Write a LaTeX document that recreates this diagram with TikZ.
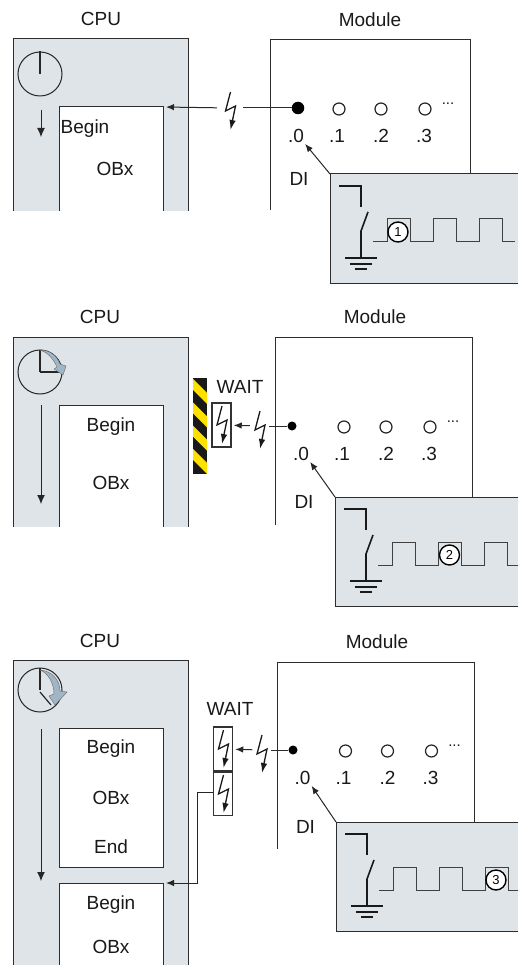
\documentclass[tikz,border=0pt]{standalone}
\usepackage{fontspec}
\setmainfont{Liberation Sans}
\usepackage{xcolor}
\usetikzlibrary{arrows.meta, shapes.geometric}
\definecolor{panelgray}{RGB}{223, 228, 232}
\definecolor{linedark}{RGB}{45, 45, 45}
\definecolor{sweepblue}{RGB}{160, 182, 198}
\definecolor{hazardyellow}{RGB}{255, 225, 0}
\tikzset{
  lbl/.style={inner sep=1pt, text=black!90, font=\fontsize{19}{21}\selectfont},
  area/.style={inner sep=0pt, outer sep=0pt, anchor=north west, minimum width=#1},
  cpuarea/.style={area=175, fill=panelgray},
  obarea/.style={area=104, fill=white},
  boxline/.style={draw=linedark, line width=1pt},
  clockface/.style={circle, draw=black!85, line width=1pt, minimum size=44pt, inner sep=0pt},
  hand/.style={draw=black!85, line width=1.2pt},
  flow/.style={draw=black!85, line width=1pt, -{Latex[length=9pt,width=8pt]}},
  signal/.style={draw=black!85, line width=1pt, -{Latex[length=8pt,width=6.5pt]}},
  sweep/.style={fill=sweepblue, draw=black!60, line width=0.4pt},
  boltgap/.style={inner sep=0pt, minimum width=#1, minimum height=2pt},
  waitcell/.style={draw=black!80, line width=1.5pt, fill=white, inner sep=0pt, minimum width=19pt, minimum height=#1},
  pinopen/.style={circle, draw=black!85, line width=1.2pt, inner sep=0pt, minimum size=12pt},
  numbered/.style={circle, draw=black, line width=1.4pt, fill=white, inner sep=0pt, minimum size=20pt, font=\fontsize{13}{13}\selectfont},
  pulse/.style={draw=black!75, line width=1pt},
  wiring/.style={draw=black!90, line width=1.6pt},
  pics/bolt/.style={code={
    \draw[black!90, line width=1.3pt, -{Latex[length=10pt,width=6.5pt]}] (0.5,-19) -- (-4.5,0) -- (5.5,-5) -- (0.5,19);
  }}
}
\newcommand{\openbox}[1]{\draw[boxline] (#1.south west) |- (#1.north east) -- (#1.south east);}
\begin{document}
\begin{tikzpicture}[x=1pt, y=-1pt]
  \useasboundingbox (0,0) rectangle (518,965);

  % modules with their digital input insets
  \foreach \p/\dx/\mleft/\mright/\mtop/\mlow/\row/\ix/\iy/\dotx/\dotsize/\num/\cx in {
    a/0/270/470/40/210/109/330/174/298/12.5pt/1/68,
    b/5/275/472/337/525/427/335/497/292/9pt/2/114.5,
    c/6.5/277/474/662/849/751/336/822/293/9pt/3/160}
  {
    \node[lbl] (\p mod) at ({\mleft+100},{\mtop-20.5}) {Module};
    \draw[boxline] (\mleft,\mlow) |- (\mright,\mtop) -- (\mright,\iy);
    \node[circle, fill=black, inner sep=0pt, minimum size=\dotsize] (\p dot) at (\dotx,{\row-1}) {};
    \node[pinopen] (\p pin1) at ({339+\dx},\row) {};
    \node[pinopen] (\p pin2) at ({381+\dx},\row) {};
    \node[pinopen] (\p pin3) at ({425+\dx},\row) {};
    \node[lbl, font=\fontsize{15}{15}\selectfont] (\p more) at ({448+\dx},{\row-5}) {...};
    \node[lbl] (\p zero) at ({296+\dx},{\row+27}) {.0};
    \node[lbl] (\p one) at ({337+\dx},{\row+27}) {.1};
    \node[lbl] (\p two) at ({381+\dx},{\row+27}) {.2};
    \node[lbl] (\p three) at ({424+\dx},{\row+27}) {.3};
    \node[lbl] (\p di) at ({299+\dx},{\iy+5}) {DI};
    \node[area=195, minimum height=109pt, fill=panelgray] (\p inset) at (\ix,\iy) {};
    \draw[boxline] (\p inset.south east) -- (\p inset.south west) |- (\p inset.north east);
    \draw[signal] (\p inset.north west) -- (\p zero.south east);
    \begin{scope}[shift={(\ix,\iy)}]
      \draw[wiring] (9,12) -| (31,33);
      \draw[wiring] (38,38) -- (31,57) -- (31,84);
      \draw[wiring] (15,84) -- (47,84);
      \draw[wiring] (20,90) -- (42,90);
      \draw[wiring] (25,95) -- (37,95);
      \draw[pulse] (43,68) -- (57,68) -- (57,45) -- (80,45) -- (80,68) -- (103,68) -- (103,45) -- (126,45)
        -- (126,68) -- (149,68) -- (149,45) -- (172,45) -- (172,68) -- (185,68);
      \node[numbered] (\p step) at (\cx,58) {\num};
    \end{scope}
  }

  % CPU running, first interrupt
  \node[lbl] (cpua) at (101,19) {CPU};
  \node[cpuarea, minimum height=172pt] (areaa) at (13,39) {};
  \openbox{areaa}
  \node[clockface] (clka) at (40,74) {};
  \draw[hand] (clka.center) -- (clka.north);
  \coordinate (runa) at (41,110);
  \coordinate (enda) at (41,137);
  \draw[flow] (runa) -- (enda);
  \node[obarea, minimum height=104pt] (oba) at (59,107) {};
  \openbox{oba}
  \node[lbl] (begina) at (85,129) {Begin};
  \node[lbl] (obxa) at (115,169) {OBx};
  \node[boltgap=26pt] (zapa) at (230,108) {};
  \pic at ([yshift=-3pt]zapa) {bolt};
  \draw[boxline] (adot) -- (zapa);
  \draw[signal, shorten >=3pt] (zapa) -- (oba.north east);

  % second event has to wait
  \node[lbl] (cpub) at (100,317) {CPU};
  \node[cpuarea, minimum height=190pt] (areab) at (13,337) {};
  \openbox{areab}
  \node[clockface] (clkb) at (40,372) {};
  \draw[hand] (clkb.center) -- (clkb.north);
  \draw[hand] (clkb.center) -- (clkb.east);
  \draw[sweep] (40,350) .. controls (50,350) and (57,356) .. (60,364) -- (66,366) -- (63,375) -- (54,369) -- (57,367) .. controls (53,358) and (47,352) .. (40,350);
  \coordinate (runb) at (41,405);
  \coordinate (endb) at (41,504);
  \draw[flow] (runb) -- (endb);
  \node[obarea, minimum height=122pt] (obb) at (59,405) {};
  \openbox{obb}
  \node[lbl] (beginb) at (111,427) {Begin};
  \node[lbl] (obxb) at (111,483) {OBx};
  \begin{scope}
    \clip (193,378) rectangle (207,474);
    \fill[black!90] (193,378) rectangle (207,474);
    \foreach \s in {379,402.3,425.6,449}
      \fill[hazardyellow] (193,\s) -- (207,{\s+14}) -- (207,{\s+25}) -- (193,{\s+11}) -- cycle;
  \end{scope}
  \node[lbl] (waitb) at (240,387) {WAIT};
  \node[waitcell=44pt] (cellb) at (221.5,425) {};
  \pic at (cellb) {bolt};
  \node[boltgap=19pt] (zapb) at (259.5,426) {};
  \pic at ([yshift=-4pt]zapb) {bolt};
  \draw[boxline] (bdot) -- (zapb);
  \draw[signal, shorten >=2pt] (zapb) -- (cellb);

  % first OB finished, waiting one starts
  \node[lbl] (cpuc) at (100,641) {CPU};
  \node[cpuarea, minimum height=306pt] (areac) at (13,660) {};
  \openbox{areac}
  \node[clockface] (clkc) at (40,690) {};
  \draw[hand] (clkc.center) -- (clkc.north);
  \draw[hand] (clkc.center) ++(0,2) -- ++(11,13);
  \draw[sweep] (40,670) .. controls (52,671) and (60,680) .. (60,691) -- (67,692) -- (55,705) -- (49,696) -- (54,694) .. controls (54,683) and (48,673) .. (40,670);
  \coordinate (runc) at (41,729);
  \coordinate (endc) at (41,881);
  \draw[flow] (runc) -- (endc);
  \node[obarea, minimum height=139pt, draw=linedark, line width=1pt] (obc) at (59,728) {};
  \node[lbl] (beginc) at (111,749) {Begin};
  \node[lbl] (obxc) at (111,798) {OBx};
  \node[lbl] (endtxtc) at (111,847) {End};
  \node[obarea, minimum height=83pt] (obd) at (59,883) {};
  \openbox{obd}
  \node[lbl] (begind) at (111,905) {Begin};
  \node[lbl] (obxd) at (111,947) {OBx};
  \node[lbl] (waitc) at (230,709) {WAIT};
  \node[waitcell=44pt] (cellc) at (223,749) {};
  \node[waitcell=43pt, anchor=north] (celld) at (cellc.south) {};
  \pic at (cellc) {bolt};
  \pic at (celld) {bolt};
  \node[boltgap=18pt] (zapc) at (261.5,750) {};
  \pic at ([yshift=-4pt]zapc) {bolt};
  \draw[boxline] (cdot) -- (zapc);
  \draw[signal, shorten >=2pt] (zapc) -- (cellc);
  \draw[signal, shorten >=3pt] ([yshift=2pt]celld.west) -- ++(-15,0) |- (obd.north east);
\end{tikzpicture}
\end{document}
